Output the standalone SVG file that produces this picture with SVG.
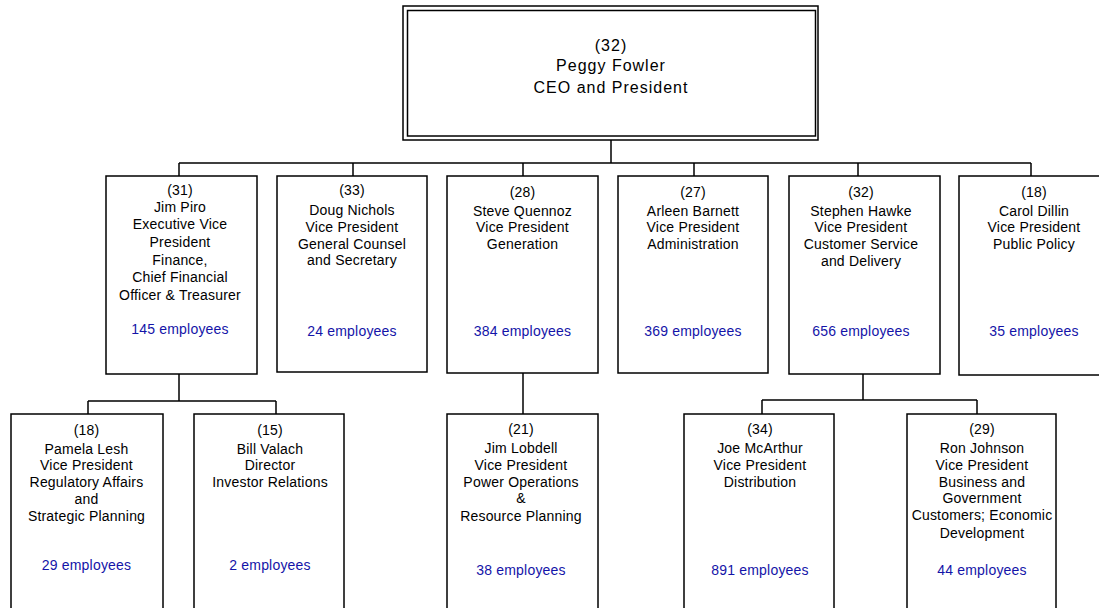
<svg xmlns="http://www.w3.org/2000/svg" width="1099" height="608" viewBox="0 0 1099 608">
<style>
.box{fill:#fff;stroke:#000;stroke-width:1.5}
.ln{fill:none;stroke:#000;stroke-width:1.5}
text{font-family:"Liberation Sans",Arial,sans-serif;font-size:14px;letter-spacing:0.2px;text-anchor:middle;fill:#000}
.top{font-size:16px;letter-spacing:1px}
.emp{fill:#1414A8}
</style>
<rect width="1099" height="608" fill="#fff"/>
<g id="connectors">
<path class="ln" d="M611,140 V163 M179,163 H1031 M179,163 V176 M353,163 V176 M523,163 V176 M694,163 V176 M858,163 V176 M1031,163 V176"/>
<path class="ln" d="M179,374 V401 M88,401 H276 M88,401 V414 M276,401 V414"/>
<path class="ln" d="M523,373 V414"/>
<path class="ln" d="M863,374 V400 M762,400 H977 M762,400 V414 M977,400 V414"/>
</g>
<g id="n-fowler">
<rect x="403" y="6" width="415" height="134" fill="#fff" stroke="#000" stroke-width="1.5"/>
<rect x="407.5" y="10.5" width="408" height="125.5" fill="none" stroke="#000" stroke-width="1.5"/>
<text class="top" x="611" y="50.5">(32)</text>
<text class="top" x="611" y="71">Peggy Fowler</text>
<text class="top" x="611" y="92.5">CEO and President</text>
</g>
<g id="n-piro">
<rect class="box" x="106" y="176" width="151" height="198"/>
<text x="180" y="194.5">(31)</text>
<text x="180" y="211.7">Jim Piro</text>
<text x="180" y="229.3">Executive Vice</text>
<text x="180" y="247">President</text>
<text x="180" y="264.5">Finance,</text>
<text x="180" y="282">Chief Financial</text>
<text x="180" y="299.5">Officer &amp; Treasurer</text>
<text class="emp" x="180" y="334">145 employees</text>
</g>
<g id="n-nichols">
<rect class="box" x="277" y="176" width="150" height="196"/>
<text x="352" y="195">(33)</text>
<text x="352" y="215">Doug Nichols</text>
<text x="352" y="231.7">Vice President</text>
<text x="352" y="249">General Counsel</text>
<text x="352" y="265">and Secretary</text>
<text class="emp" x="352" y="336">24 employees</text>
</g>
<g id="n-quennoz">
<rect class="box" x="447" y="176" width="151" height="197"/>
<text x="522.5" y="197">(28)</text>
<text x="522.5" y="215.5">Steve Quennoz</text>
<text x="522.5" y="232">Vice President</text>
<text x="522.5" y="249.3">Generation</text>
<text class="emp" x="522.5" y="336">384 employees</text>
</g>
<g id="n-barnett">
<rect class="box" x="618" y="176" width="150" height="197"/>
<text x="693" y="197">(27)</text>
<text x="693" y="215.5">Arleen Barnett</text>
<text x="693" y="232">Vice President</text>
<text x="693" y="249.3">Administration</text>
<text class="emp" x="693" y="336">369 employees</text>
</g>
<g id="n-hawke">
<rect class="box" x="789" y="176" width="151" height="198"/>
<text x="861" y="197">(32)</text>
<text x="861" y="215.5">Stephen Hawke</text>
<text x="861" y="232">Vice President</text>
<text x="861" y="249.3">Customer Service</text>
<text x="861" y="265.5">and Delivery</text>
<text class="emp" x="861" y="336">656 employees</text>
</g>
<g id="n-dillin">
<rect class="box" x="959" y="176" width="160" height="199"/>
<text x="1034" y="197">(18)</text>
<text x="1034" y="215.5">Carol Dillin</text>
<text x="1034" y="232">Vice President</text>
<text x="1034" y="249.3">Public Policy</text>
<text class="emp" x="1034" y="336">35 employees</text>
</g>
<g id="n-lesh">
<rect class="box" x="11" y="414" width="152" height="210"/>
<text x="86.5" y="435">(18)</text>
<text x="86.5" y="453.5">Pamela Lesh</text>
<text x="86.5" y="470">Vice President</text>
<text x="86.5" y="487">Regulatory Affairs</text>
<text x="86.5" y="503.5">and</text>
<text x="86.5" y="520.5">Strategic Planning</text>
<text class="emp" x="86.5" y="570">29 employees</text>
</g>
<g id="n-valach">
<rect class="box" x="194" y="414" width="150" height="210"/>
<text x="270" y="435">(15)</text>
<text x="270" y="453.5">Bill Valach</text>
<text x="270" y="470">Director</text>
<text x="270" y="487">Investor Relations</text>
<text class="emp" x="270" y="570">2 employees</text>
</g>
<g id="n-lobdell">
<rect class="box" x="447" y="414" width="151" height="210"/>
<text x="521" y="434">(21)</text>
<text x="521" y="453">Jim Lobdell</text>
<text x="521" y="470">Vice President</text>
<text x="521" y="487">Power Operations</text>
<text x="521" y="503">&amp;</text>
<text x="521" y="520.5">Resource Planning</text>
<text class="emp" x="521" y="575">38 employees</text>
</g>
<g id="n-mcarthur">
<rect class="box" x="684" y="414" width="150" height="210"/>
<text x="760" y="434">(34)</text>
<text x="760" y="453">Joe McArthur</text>
<text x="760" y="470">Vice President</text>
<text x="760" y="487">Distribution</text>
<text class="emp" x="760" y="575">891 employees</text>
</g>
<g id="n-johnson">
<rect class="box" x="907" y="414" width="149" height="210"/>
<text x="982" y="434">(29)</text>
<text x="982" y="453">Ron Johnson</text>
<text x="982" y="470">Vice President</text>
<text x="982" y="487">Business and</text>
<text x="982" y="503">Government</text>
<text x="982" y="520">Customers; Economic</text>
<text x="982" y="537.5">Development</text>
<text class="emp" x="982" y="575">44 employees</text>
</g>
</svg>
